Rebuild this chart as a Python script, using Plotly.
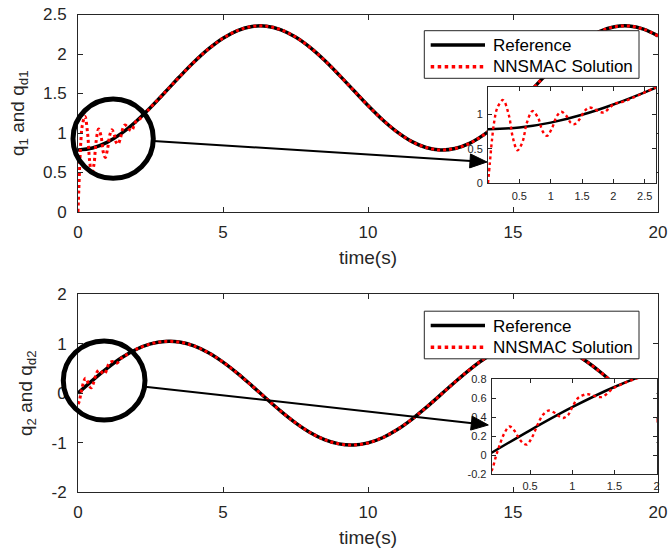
import plotly.graph_objects as go

W, H = 670, 549

# ---------------- data ----------------
t_ref = [0, 0.5, 1, 1.5, 2, 2.5, 3, 3.5, 4, 4.5, 5, 5.5, 6, 6.5, 7, 7.5, 8, 8.5, 9, 9.5,
         10, 10.5, 11, 11.5, 12, 12.5, 13, 13.5, 14, 14.5, 15, 15.5, 16, 16.5, 17, 17.5,
         18, 18.5, 19, 19.5, 20]
q1_ref = [0.785, 0.810, 0.882, 0.996, 1.146, 1.323, 1.515, 1.711, 1.898, 2.064, 2.200,
          2.297, 2.348, 2.352, 2.306, 2.215, 2.084, 1.921, 1.736, 1.541, 1.348, 1.168,
          1.014, 0.894, 0.817, 0.786, 0.804, 0.869, 0.979, 1.124, 1.299, 1.489, 1.685,
          1.875, 2.044, 2.184, 2.286, 2.344, 2.354, 2.315, 2.230]
q2_ref = [0.000, 0.260, 0.503, 0.716, 0.884, 0.996, 1.047, 1.033, 0.955, 0.817, 0.628,
          0.401, 0.148, -0.114, -0.368, -0.600, -0.795, -0.940, -1.026, -1.049, -1.007,
          -0.902, -0.741, -0.534, -0.293, -0.035, 0.226, 0.473, 0.690, 0.864, 0.985,
          1.047, 1.039, 0.963, 0.838, 0.656, 0.433, 0.183, -0.079, -0.335, -0.571]

# NNSMAC solution: transient part (after it the solution lies on the reference)
t_q1_early = [0, 0.03, 0.06, 0.10, 0.15, 0.24, 0.33, 0.40, 0.47, 0.55, 0.62, 0.71, 0.80,
              0.87, 0.94, 1.02, 1.10, 1.17, 1.25, 1.32, 1.38, 1.46, 1.54, 1.61, 1.70,
              1.78, 1.85, 1.93, 2.02, 2.10, 2.20, 2.30, 2.40]
q1_early = [0.00, 0.30, 0.60, 0.90, 1.10, 1.21, 1.00, 0.65, 0.48, 0.60, 0.88, 1.05, 0.95,
            0.76, 0.69, 0.80, 0.98, 1.04, 0.98, 0.88, 0.86, 0.93, 1.05, 1.10, 1.08,
            1.04, 1.03, 1.09, 1.16, 1.17, 1.20, 1.24, 1.28]
t_q2_early = [0, 0.047, 0.09, 0.126, 0.19, 0.256, 0.31, 0.36, 0.41, 0.46, 0.52, 0.59, 0.65,
              0.717, 0.78, 0.84, 0.894, 0.95, 1.01, 1.07, 1.13, 1.19, 1.27, 1.35, 1.42,
              1.48, 1.55, 1.65, 1.75]
q2_early = [-0.22, -0.16, -0.03, 0.07, 0.22, 0.30, 0.26, 0.19, 0.13, 0.11, 0.18, 0.32, 0.42,
            0.467, 0.45, 0.41, 0.39, 0.42, 0.52, 0.60, 0.63, 0.64, 0.62, 0.61, 0.65,
            0.70, 0.73, 0.77, 0.80]

t_sol1 = t_q1_early + [t for t in t_ref if t > t_q1_early[-1]]
q1_sol = q1_early + [v for t, v in zip(t_ref, q1_ref) if t > t_q1_early[-1]]
t_sol2 = t_q2_early + [t for t in t_ref if t > t_q2_early[-1]]
q2_sol = q2_early + [v for t, v in zip(t_ref, q2_ref) if t > t_q2_early[-1]]

x_ticks = [0, 5, 10, 15, 20]
y1_ticks = [0, 0.5, 1, 1.5, 2, 2.5]
y1_labels = ["0", "0.5", "1", "1.5", "2", "2.5"]
y2_ticks = [-2, -1, 0, 1, 2]
y2_labels = ["-2", "-1", "0", "1", "2"]
in1_x_ticks = [0.5, 1, 1.5, 2, 2.5]
in1_y_ticks = [0, 0.5, 1]
in1_y_labels = ["0", "0.5", "1"]
in2_x_ticks = [0.5, 1, 1.5, 2]
in2_y_ticks = [-0.2, 0, 0.2, 0.4, 0.6, 0.8]
in2_y_labels = ["-0.2", "0", "0.2", "0.4", "0.6", "0.8"]

series_names = ["Reference", "NNSMAC Solution"]

# ---------------- figure ----------------
AX = "#262626"
FONT = "Arial, Liberation Sans, sans-serif"


def px(x):
    return x / W


def py(y):
    return 1 - y / H


fig = go.Figure()

RED = "#ff0000"


def add_pair(t_r, v_r, t_s, v_s, xa, ya, w_ref, w_sol):
    fig.add_trace(go.Scatter(x=t_r, y=v_r, mode="lines", name=series_names[0],
                             line=dict(color="black", width=w_ref, shape="spline"),
                             xaxis=xa, yaxis=ya, showlegend=False))
    fig.add_trace(go.Scatter(x=t_s, y=v_s, mode="lines", name=series_names[1],
                             line=dict(color=RED, width=w_sol, dash="dot", shape="spline"),
                             xaxis=xa, yaxis=ya, showlegend=False))


add_pair(t_ref, q1_ref, t_sol1, q1_sol, "x", "y", 3.5, 3)
add_pair(t_ref, q2_ref, t_sol2, q2_sol, "x2", "y2", 3.5, 3)
add_pair(t_ref, q1_ref, t_sol1, q1_sol, "x3", "y3", 2.5, 2.4)
add_pair(t_ref, q2_ref, t_sol2, q2_sol, "x4", "y4", 2.5, 2.4)

common = dict(showline=True, linecolor=AX, linewidth=1, mirror="ticks", ticks="inside",
              tickcolor=AX, showgrid=False, zeroline=False, automargin=False,
              tickfont=dict(family=FONT, size=17, color=AX))

main_x = dict(common, range=[0, 20], tickvals=x_ticks, ticklen=5, ticklabelstandoff=5,
              title=dict(text="time(s)", font=dict(family=FONT, size=19, color=AX), standoff=9))

top_y = [212, 14.5]
bot_y = [492, 294.3]

fig.update_layout(
    width=W, height=H, margin=dict(l=0, r=0, t=0, b=0),
    paper_bgcolor="white", plot_bgcolor="#ffffff",
    xaxis=dict(main_x, domain=[px(78), px(658)], anchor="y"),
    yaxis=dict(common, domain=[py(top_y[0]), py(top_y[1])], range=[0, 2.5], anchor="x",
               tickvals=y1_ticks, ticktext=y1_labels, ticklen=5, ticklabelstandoff=7,
               title=dict(text="q<sub>1</sub> and q<sub>d1</sub>",
                          font=dict(family=FONT, size=19, color=AX), standoff=13)),
    xaxis2=dict(main_x, domain=[px(78), px(658)], anchor="y2"),
    yaxis2=dict(common, domain=[py(bot_y[0]), py(bot_y[1])], range=[-2, 2], anchor="x2",
                tickvals=y2_ticks, ticktext=y2_labels, ticklen=5, ticklabelstandoff=7,
                title=dict(text="q<sub>2</sub> and q<sub>d2</sub>",
                           font=dict(family=FONT, size=19, color=AX), standoff=13)),
    xaxis3=dict(common, domain=[px(488), px(656)], range=[0, 2.68], anchor="y3",
                tickvals=in1_x_ticks, ticklen=4, ticklabelstandoff=2,
                tickfont=dict(family=FONT, size=11, color=AX)),
    yaxis3=dict(common, domain=[py(183.3), py(87)], range=[0, 1.4], anchor="x3",
                tickvals=in1_y_ticks, ticktext=in1_y_labels, ticklen=4, ticklabelstandoff=2,
                tickfont=dict(family=FONT, size=11, color=AX)),
    xaxis4=dict(common, domain=[px(491.7), px(656.5)], range=[0.045, 2], anchor="y4",
                tickvals=in2_x_ticks, ticklen=4, ticklabelstandoff=2,
                tickfont=dict(family=FONT, size=11, color=AX)),
    yaxis4=dict(common, domain=[py(474), py(379)], range=[-0.2, 0.8], anchor="x4",
                tickvals=in2_y_ticks, ticktext=in2_y_labels, ticklen=4, ticklabelstandoff=2,
                tickfont=dict(family=FONT, size=11, color=AX)),
)

shapes = []
annotations = []


def circle(x0, y0, x1, y1):
    shapes.append(dict(type="circle", xref="paper", yref="paper",
                       x0=px(x0), x1=px(x1), y0=py(y1), y1=py(y0),
                       line=dict(color="black", width=5), layer="above"))


def arrow(xs, ys, xt, yt, head_len=17, half=7):
    dx, dy = xt - xs, yt - ys
    L = (dx * dx + dy * dy) ** 0.5
    ux, uy = dx / L, dy / L
    bx, by = xt - head_len * ux, yt - head_len * uy
    shapes.append(dict(type="line", xref="paper", yref="paper",
                       x0=px(xs), y0=py(ys), x1=px(bx + ux), y1=py(by + uy),
                       line=dict(color="black", width=2), layer="above"))
    p1 = (bx - uy * half, by + ux * half)
    p2 = (bx + uy * half, by - ux * half)
    path = "M {},{} L {},{} L {},{} Z".format(px(xt), py(yt), px(p1[0]), py(p1[1]),
                                               px(p2[0]), py(p2[1]))
    shapes.append(dict(type="path", xref="paper", yref="paper", path=path,
                       fillcolor="black", line=dict(color="black", width=1), layer="above"))


def legend(dy):
    shapes.append(dict(type="rect", xref="paper", yref="paper",
                       x0=px(424.3), x1=px(639), y0=py(78.3 + dy), y1=py(30.7 + dy),
                       fillcolor="white", line=dict(color=AX, width=1), layer="above"))
    shapes.append(dict(type="line", xref="paper", yref="paper",
                       x0=px(430.7), x1=px(485), y0=py(45 + dy), y1=py(45 + dy),
                       line=dict(color="black", width=3.5), layer="above"))
    shapes.append(dict(type="line", xref="paper", yref="paper",
                       x0=px(430.7), x1=px(485), y0=py(66.7 + dy), y1=py(66.7 + dy),
                       line=dict(color=RED, width=3.5, dash="dot"), layer="above"))
    for name, yy in zip(series_names, [45.5, 66.7]):
        annotations.append(dict(text=name, xref="paper", yref="paper", x=px(490.5),
                                y=py(yy + dy), xanchor="left", yanchor="middle",
                                showarrow=False,
                                font=dict(family=FONT, size=17, color="black")))


circle(73, 99, 153.3, 178.3)
arrow(153.3, 141, 487, 162)
circle(63.3, 341, 145, 420)
arrow(145, 386.7, 488.3, 425)
legend(0)
legend(280.5)

fig.update_layout(shapes=shapes, annotations=annotations)

fig.write_html("out.html", config={"displayModeBar": False},
               post_script="document.body.style.margin='0px';"
                           "document.body.style.overflow='hidden';")
